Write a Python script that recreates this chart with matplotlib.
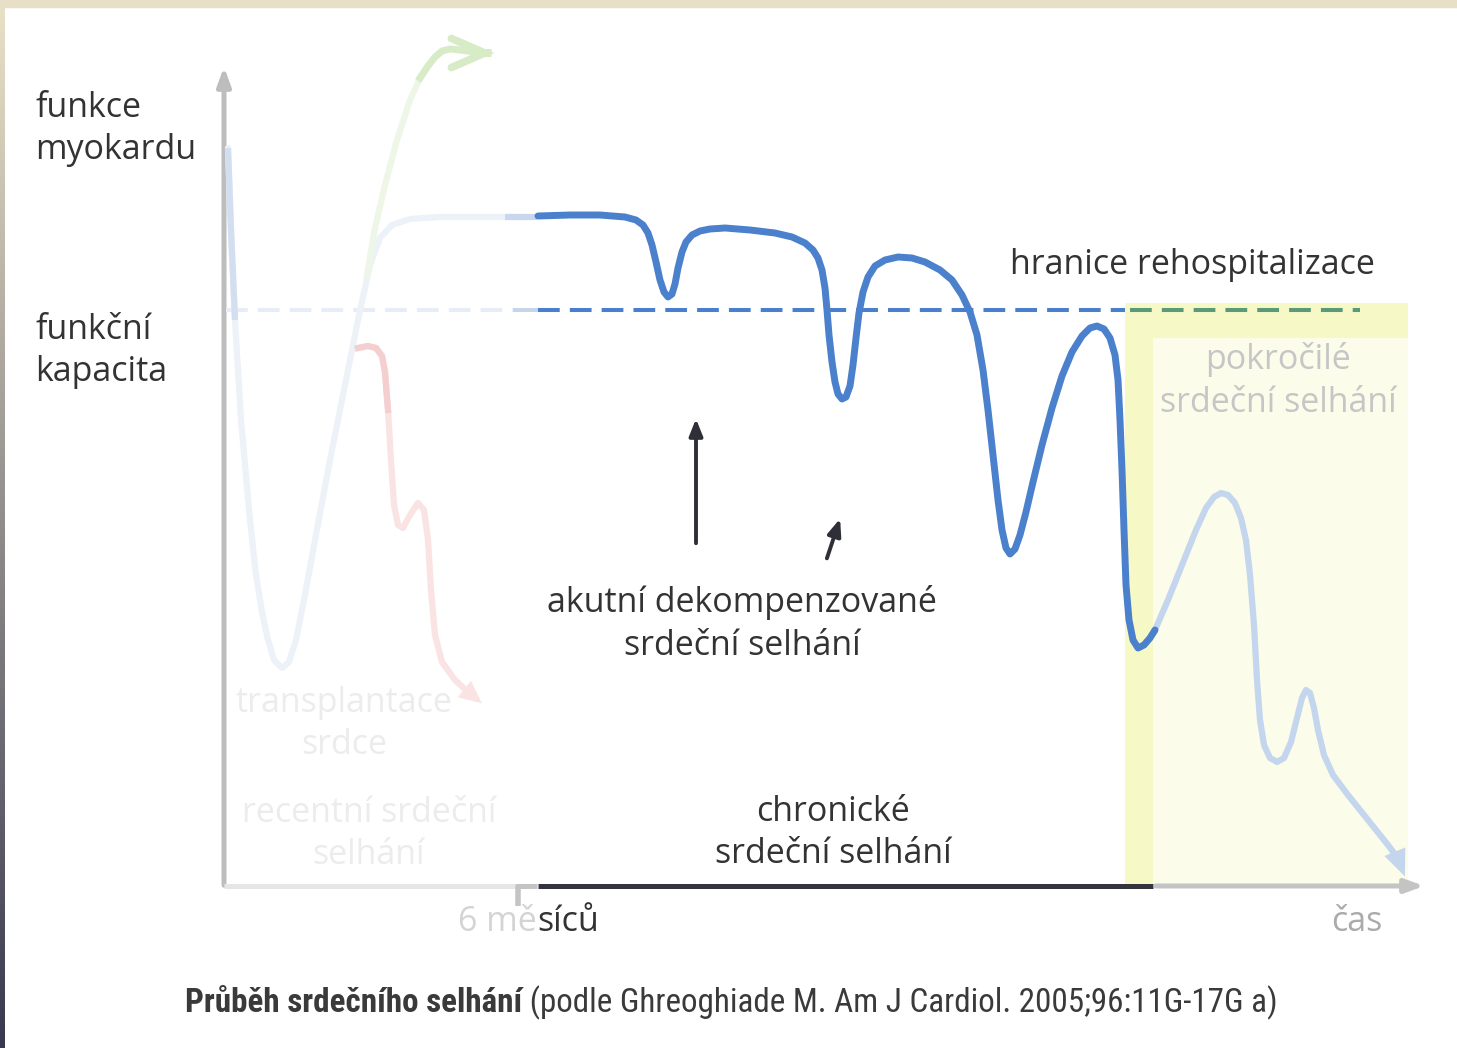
import matplotlib.pyplot as plt
from matplotlib import font_manager
import numpy as np

# chart values (pixel-like units; y grows downward)
main_x = [538, 570, 600, 625, 636, 643, 648, 652, 656, 660, 664, 668, 672, 675, 678, 682, 686, 692, 700, 710,
          725, 750, 775, 792, 805, 813, 818, 822, 825, 827, 829, 832, 835, 838, 842, 846, 850, 853, 856, 859,
          863, 868, 875, 885, 898, 912, 925, 940, 952, 962, 970, 977, 983, 988, 993, 998, 1002, 1006, 1010,
          1015, 1020, 1026, 1033, 1042, 1052, 1062, 1072, 1082, 1090, 1097, 1104, 1110, 1115, 1118, 1120,
          1122, 1124, 1126, 1129, 1133, 1138, 1144, 1150, 1155]
main_y = [216, 215, 215, 217, 220, 225, 233, 245, 262, 280, 292, 297, 294, 284, 268, 252, 242, 235, 231, 229,
          228, 230, 233, 237, 243, 250, 258, 270, 288, 310, 335, 362, 382, 394, 399, 397, 386, 365, 338, 313,
          292, 277, 266, 260, 257, 258, 262, 270, 280, 295, 312, 335, 370, 410, 455, 500, 530, 548, 554,
          549, 535, 512, 482, 445, 408, 376, 352, 336, 328, 326, 329, 338, 355, 380, 420,
          470, 530, 585, 620, 640, 648, 645, 638, 630]

late_x = [1155, 1168, 1182, 1196, 1206, 1214, 1221, 1228, 1235, 1241, 1246, 1250, 1254, 1257, 1260, 1264,
          1270, 1277, 1284, 1291, 1297, 1302, 1306, 1310, 1314, 1318, 1324, 1333, 1348, 1368, 1388, 1397]
late_y = [630, 600, 565, 530, 508, 497, 493, 495, 503, 518, 540, 575, 625, 680, 720, 745,
          758, 762, 758, 742, 718, 698, 690, 693, 708, 730, 755, 775, 795, 820, 845, 857]

early_x = [228, 231, 235, 241, 250, 256, 262, 268, 274, 282, 289, 296, 304, 315, 330, 345, 358, 370, 380, 392,
           410, 440, 505]
early_y = [148, 230, 320, 420, 520, 575, 612, 640, 660, 668, 662, 640, 600, 540, 460, 385, 320, 265, 238, 225,
           219, 217, 217]

red_x = [358, 368, 376, 382, 385, 388, 391, 394, 398, 403, 410, 418, 424, 428, 431, 435, 442, 455, 468]
red_y = [348, 346, 348, 356, 372, 410, 460, 505, 525, 528, 515, 503, 510, 540, 590, 635, 662, 680, 692]

green_x = [367, 375, 385, 397, 410, 420, 428, 435, 442, 450, 460, 475, 488]
green_y = [275, 228, 185, 140, 100, 78, 66, 57, 51, 49, 50, 52, 53]

threshold_y = 310

fig = plt.figure(figsize=(14.57, 10.48), dpi=100)
ax = fig.add_axes([0, 0, 1, 1])

# scan border
ax.axhspan(0, 7, color='#e8e0c6', zorder=0)
grad = np.linspace(0, 1, 200)[:, None]
c0 = np.array([0.91, 0.88, 0.78])
c1 = np.array([0.22, 0.22, 0.31])
img = (c0 * (1 - grad) + c1 * grad)[:, None, :].repeat(2, axis=1)
ax.imshow(img, extent=[0, 5, 1048, 7], aspect='auto', zorder=0)
ax.set_xlim(0, 1457)
ax.set_ylim(1048, 0)
ax.axis('off')

# advanced HF zone
ax.fill_between([1125, 1408], 303, 886, color='#f6f8c6', lw=0, zorder=1)
ax.fill_between([1153, 1408], 338, 886, color='#fcfcea', lw=0, zorder=1)

# axes
ax.annotate('', xy=(224, 64), xytext=(224, 888),
            arrowprops=dict(arrowstyle='-|>,head_length=1.1,head_width=0.4', color='#bdbdbd', lw=3.6), zorder=2)
ax.plot([224, 515], [886, 886], color='#e6e6e6', lw=3.6, solid_capstyle='butt', zorder=2)
ax.plot([515, 537], [886, 886], color='#c4c4c4', lw=3.6, solid_capstyle='butt', zorder=2)
ax.plot([518, 518], [886, 906], color='#c4c4c4', lw=4, solid_capstyle='butt', zorder=2)
ax.plot([538, 1153], [886, 886], color='#34343f', lw=3.6, solid_capstyle='butt', zorder=2)
ax.annotate('', xy=(1427, 886), xytext=(1153, 886),
            arrowprops=dict(arrowstyle='-|>,head_length=1.1,head_width=0.4', color='#c4c4c4', lw=3.6), zorder=2)

# threshold (dashed)
dash = (0, (5.4, 2.5))
ax.plot([226, 515], [threshold_y] * 2, color='#e6edf7', lw=2.9, linestyle=dash, zorder=2)
ax.plot([515, 537], [threshold_y] * 2, color='#c6d5ec', lw=2.9, zorder=2)
ax.plot([538, 1125], [threshold_y] * 2, color='#4a7fcc', lw=2.9, linestyle=dash, zorder=2)
ax.plot([1130, 1360], [threshold_y] * 2, color='#5b9a78', lw=2.9, linestyle=dash, zorder=2)

# faded curves
ax.plot(early_x, early_y, color='#edf2f9', lw=4.5, solid_joinstyle='round', solid_capstyle='round', zorder=3)
ax.plot(early_x[:3], early_y[:3], color='#d3dff1', lw=4.5, solid_capstyle='butt', zorder=3)
ax.plot([505, 537], [217, 217], color='#c8d7ee', lw=4.5, solid_capstyle='butt', zorder=3)
ax.plot(red_x, red_y, color='#fae3e3', lw=4.5, solid_joinstyle='round', zorder=3)
ax.plot(red_x[:6], red_y[:6], color='#f5cfcf', lw=4.5, solid_joinstyle='round', zorder=3)
ax.annotate('', xy=(484, 705), xytext=(red_x[-1], red_y[-1]),
            arrowprops=dict(arrowstyle='-|>,head_length=1.6,head_width=0.75', color='#fae3e3', lw=0.1), zorder=3)
ax.plot(green_x[:6], green_y[:6], color='#eef6e8', lw=4.5, solid_joinstyle='round', zorder=3)
ax.plot(green_x[5:], green_y[5:], color='#d6ebc6', lw=5, solid_joinstyle='round', zorder=3)
ax.annotate('', xy=(497, 53), xytext=(green_x[-1], green_y[-1]),
            arrowprops=dict(arrowstyle='->,head_length=2.4,head_width=1.05', color='#d6ebc6', lw=5.5,
                            joinstyle='miter'), zorder=3)
ax.plot(late_x, late_y, color='#c4d6ee', lw=4.5, solid_joinstyle='round', zorder=3)
ax.annotate('', xy=(1406, 879), xytext=(late_x[-1], late_y[-1]),
            arrowprops=dict(arrowstyle='-|>,head_length=1.9,head_width=0.8', color='#c4d6ee', lw=0.1), zorder=3)

# main curve
ax.plot(main_x, main_y, color='#4a80cc', lw=5, solid_joinstyle='round', solid_capstyle='round', zorder=4)

# pointer arrows
ax.annotate('', xy=(696, 416), xytext=(696, 546),
            arrowprops=dict(arrowstyle='-|>,head_length=1.0,head_width=0.4', color='#2f2f38', lw=2.8), zorder=4)
ax.annotate('', xy=(841, 516), xytext=(826, 561),
            arrowprops=dict(arrowstyle='-|>,head_length=1.0,head_width=0.4', color='#2f2f38', lw=2.8), zorder=4)

# texts
font = ['Open Sans', 'DejaVu Sans']
fs = 24.5
dark = '#333333'
ls = 1.32
ax.text(35, 129, 'funkce\nmyokardu', fontsize=fs, family=font, color=dark, va='center', ha='left', linespacing=ls)
ax.text(35, 351, 'funkční\nkapacita', fontsize=fs, family=font, color=dark, va='center', ha='left', linespacing=ls)
ax.text(1192, 265, 'hranice rehospitalizace', fontsize=fs, family=font, color=dark, va='center', ha='center')
ax.text(742, 624, 'akutní dekompenzované\nsrdeční selhání', fontsize=fs, family=font, color=dark,
        va='center', ha='center', linespacing=ls)
ax.text(833, 833, 'chronické\nsrdeční selhání', fontsize=fs, family=font, color=dark,
        va='center', ha='center', linespacing=ls)
ax.text(344, 724, 'transplantace\nsrdce', fontsize=fs, family=font, color='#ececec',
        va='center', ha='center', linespacing=ls)
ax.text(369, 834, 'recentní srdeční\nselhání', fontsize=fs, family=font, color='#ececec',
        va='center', ha='center', linespacing=ls)
ax.text(1278, 381, 'pokročilé\nsrdeční selhání', fontsize=fs, family=font, color='#c6c6c6',
        va='center', ha='center', linespacing=ls, zorder=5)
ax.text(537, 922, '6 mě', fontsize=fs, family=font, color='#d4d4d4', va='center', ha='right')
ax.text(537, 922, 'síců', fontsize=fs, family=font, color=dark, va='center', ha='left')
ax.text(1357, 922, 'čas', fontsize=fs, family=font, color='#ababab', va='center', ha='center')

# caption: pick a narrow face if one is installed, then fit to the original width
installed = {f.name for f in font_manager.fontManager.ttflist}
narrow = [n for n in ['Liberation Sans Narrow', 'Roboto Condensed', 'Open Sans Condensed',
                      'DejaVu Sans Condensed', 'Roboto'] if n in installed]
cap_font = narrow[:1] + ['DejaVu Sans']
cap_fs = 27
t1 = ax.text(185, 1003, 'Průběh srdečního selhání', fontsize=cap_fs, family=cap_font, weight='bold',
             color='#3a3a3a', va='center', ha='left')
t2 = ax.annotate(' (podle Ghreoghiade M. Am J Cardiol. 2005;96:11G-17G a)', xy=(1, 0.5), xycoords=t1,
                 fontsize=cap_fs, family=cap_font, color='#3a3a3a', va='center', ha='left')
r = fig.canvas.get_renderer()
w = t1.get_window_extent(r).width + t2.get_window_extent(r).width
scale = 1095 / w
t1.set_fontsize(cap_fs * scale)
t2.set_fontsize(cap_fs * scale)

fig.savefig('out.png', dpi=100)
